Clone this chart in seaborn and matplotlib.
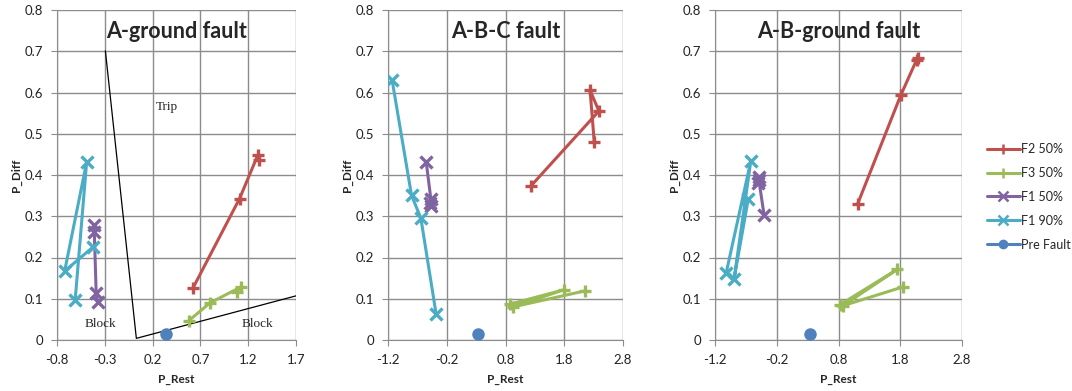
import numpy as np
import pandas as pd
import seaborn as sns
import matplotlib.pyplot as plt
from matplotlib.lines import Line2D

# series names and colours (Excel 2007 palette)
series = ['F2 50%', 'F3 50%', 'F1 50%', 'F1 90%', 'Pre Fault']
colors = ['#C0504D', '#9BBB59', '#8064A2', '#4BACC6', '#4F81BD']
markers = ['+', '+', 'x', 'x', 'o']

titles = ['A-ground fault', 'A-B-C fault', 'A-B-ground fault']

# A-ground fault
ag_x = {'F2 50%': [0.62, 1.11, 1.30, 1.31],
        'F3 50%': [0.58, 0.80, 1.12, 1.08],
        'F1 50%': [-0.41, -0.41, -0.39, -0.375],
        'F1 90%': [-0.61, -0.49, -0.72, -0.42],
        'Pre Fault': [0.34]}
ag_y = {'F2 50%': [0.125, 0.343, 0.448, 0.436],
        'F3 50%': [0.047, 0.090, 0.128, 0.117],
        'F1 50%': [0.279, 0.263, 0.113, 0.093],
        'F1 90%': [0.097, 0.431, 0.167, 0.226],
        'Pre Fault': [0.015]}

# A-B-C fault
abc_x = {'F2 50%': [1.23, 2.39, 2.24, 2.31],
         'F3 50%': [0.88, 1.80, 0.92, 2.15],
         'F1 50%': [-0.55, -0.47, -0.46, -0.49],
         'F1 90%': [-1.13, -0.80, -0.64, -0.38],
         'Pre Fault': [0.34]}
abc_y = {'F2 50%': [0.373, 0.555, 0.605, 0.481],
         'F3 50%': [0.087, 0.122, 0.080, 0.119],
         'F1 50%': [0.432, 0.341, 0.325, 0.332],
         'F1 90%': [0.630, 0.351, 0.295, 0.062],
         'Pre Fault': [0.014]}

# A-B-ground fault
abg_x = {'F2 50%': [1.11, 1.81, 2.08, 2.07],
         'F3 50%': [0.83, 1.75, 0.87, 1.85],
         'F1 50%': [-0.49, -0.50, -0.49, -0.405],
         'F1 90%': [-1.02, -0.62, -0.89, -0.66],
         'Pre Fault': [0.34]}
abg_y = {'F2 50%': [0.330, 0.594, 0.684, 0.678],
         'F3 50%': [0.086, 0.171, 0.083, 0.129],
         'F1 50%': [0.396, 0.380, 0.388, 0.303],
         'F1 90%': [0.162, 0.434, 0.149, 0.343],
         'Pre Fault': [0.014]}

# trip / block boundary in first panel
boundary_x = [-0.294, 0.03, 1.7]
boundary_y = [0.701, 0.004, 0.107]

x_ticks = [[-0.8, -0.3, 0.2, 0.7, 1.2, 1.7],
           [-1.2, -0.2, 0.8, 1.8, 2.8],
           [-1.2, -0.2, 0.8, 1.8, 2.8]]
y_ticks = [0, 0.1, 0.2, 0.3, 0.4, 0.5, 0.6, 0.7, 0.8]
y_labels = ['0', '0.1', '0.2', '0.3', '0.4', '0.5', '0.6', '0.7', '0.8']

sns.set_style('white')
plt.rcParams['font.family'] = ['Lato', 'DejaVu Sans']

fig = plt.figure(figsize=(10.72, 3.91), dpi=100)
positions = [[57, 239], [388, 235], [715, 247]]
panels = [(ag_x, ag_y), (abc_x, abc_y), (abg_x, abg_y)]

for i, (px, py) in enumerate(panels):
    left, width = positions[i]
    ax = fig.add_axes([left / 1072, 51 / 391, width / 1072, 330 / 391])
    for name, col, mk in zip(series, colors, markers):
        df = pd.DataFrame({'P_Rest': px[name], 'P_Diff': py[name]})
        if name == 'Pre Fault':
            sns.lineplot(data=df, x='P_Rest', y='P_Diff', ax=ax, color=col,
                         marker='o', markersize=9, markeredgewidth=0,
                         markerfacecolor=col, linestyle='none', zorder=4)
        else:
            sns.lineplot(data=df, x='P_Rest', y='P_Diff', ax=ax, color=col,
                         sort=False, estimator=None, lw=2.2, marker=mk,
                         markersize=8, markeredgewidth=2.4,
                         markeredgecolor=col, zorder=3)
    ax.set_xlim(x_ticks[i][0], x_ticks[i][-1])
    ax.set_ylim(0, 0.8)
    ax.set_xticks(x_ticks[i])
    ax.set_xticklabels([f'{t:g}' for t in x_ticks[i]])
    ax.set_yticks(y_ticks)
    ax.set_yticklabels(y_labels)
    ax.grid(True, color='#8c8c8c', lw=1)
    ax.set_axisbelow(True)
    for s in ['top', 'right']:
        ax.spines[s].set_visible(False)
    for s in ['left', 'bottom']:
        ax.spines[s].set_color('#8c8c8c')
    ax.tick_params(axis='both', length=4, color='#8c8c8c', labelsize=9.5,
                   labelcolor='#222222', bottom=True, left=True, pad=6)
    ax.set_xlabel('P_Rest', fontsize=8.5, fontweight='bold', labelpad=6)
    ax.set_ylabel('P_Diff', fontsize=8.5, fontweight='bold', labelpad=2)
    ax.text(0.5, 0.935, titles[i], transform=ax.transAxes, ha='center',
            va='center', fontsize=15.5, fontweight='bold')
    if i == 0:
        ax.plot(boundary_x, boundary_y, color='black', lw=0.9, zorder=2)
        serif = ['Liberation Serif', 'DejaVu Serif']
        ax.text(0.35, 0.564, 'Trip', family=serif, fontsize=9.5, ha='center', va='center')
        ax.text(-0.35, 0.038, 'Block', family=serif, fontsize=9.5, ha='center', va='center')
        ax.text(1.3, 0.038, 'Block', family=serif, fontsize=9.5, ha='center', va='center')

handles = []
for name, col, mk in zip(series, colors, markers):
    handles.append(Line2D([], [], color=col, lw=2.2, marker=mk,
                          markersize=7, markeredgecolor=col,
                          markeredgewidth=1.8 if mk != 'o' else 0))
fig.legend(handles, series, loc='upper left', bbox_to_anchor=(982 / 1072, 1 - 138 / 391),
           frameon=False, fontsize=9, handlelength=2.6, handletextpad=0.1,
           labelspacing=0.95, borderaxespad=0)

plt.savefig('out.png', dpi=100)
